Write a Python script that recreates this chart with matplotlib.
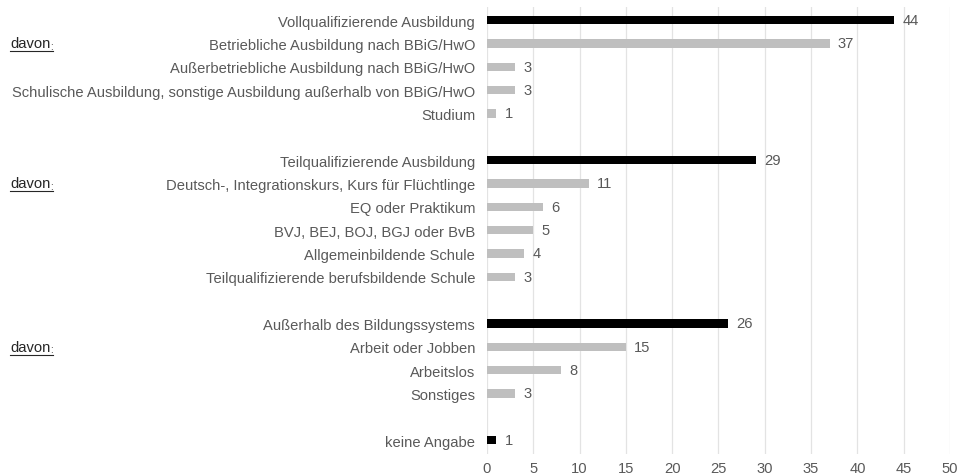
import matplotlib.pyplot as plt
from matplotlib.lines import Line2D

plt.rcParams['font.family'] = ['Liberation Sans', 'DejaVu Sans']

# Kategorien (None = Leerzeile)
labels = [
    'Vollqualifizierende Ausbildung',
    'Betriebliche Ausbildung nach BBiG/HwO',
    'Außerbetriebliche Ausbildung nach BBiG/HwO',
    'Schulische Ausbildung, sonstige Ausbildung außerhalb von BBiG/HwO',
    'Studium',
    None,
    'Teilqualifizierende Ausbildung',
    'Deutsch-, Integrationskurs, Kurs für Flüchtlinge',
    'EQ oder Praktikum',
    'BVJ, BEJ, BOJ, BGJ oder BvB',
    'Allgemeinbildende Schule',
    'Teilqualifizierende berufsbildende Schule',
    None,
    'Außerhalb des Bildungssystems',
    'Arbeit oder Jobben',
    'Arbeitslos',
    'Sonstiges',
    None,
    'keine Angabe',
]
values = [44, 37, 3, 3, 1, None, 29, 11, 6, 5, 4, 3, None, 26, 15, 8, 3, None, 1]
is_main = [True, False, False, False, False, None, True, False, False, False, False, False,
           None, True, False, False, False, None, True]
davon_rows = [1, 7, 14]

grey_text = '#595959'
fs = 10.6

fig = plt.figure(figsize=(9.63, 4.77), dpi=100)
ax = fig.add_axes([0.5057, 0.046, 0.4808, 0.937])

for i, (lab, val, main) in enumerate(zip(labels, values, is_main)):
    if lab is None:
        continue
    col = '#000000' if main else '#bfbfbf'
    ax.barh(i, val, height=0.36, color=col, zorder=3)
    ax.annotate(str(val), (val, i), xytext=(6, 0), textcoords='offset points',
                va='center', ha='left', fontsize=fs, color=grey_text)

ax.set_yticks([i for i, l in enumerate(labels) if l is not None])
ax.set_yticklabels([l for l in labels if l is not None], fontsize=fs, color=grey_text)
ax.tick_params(axis='y', length=0, pad=8.5)
ax.tick_params(axis='x', length=0, labelsize=fs, labelcolor=grey_text, pad=5)
ax.set_xlim(0, 50)
ax.set_xticks(range(0, 51, 5))
ax.set_ylim(18.6, -0.56)
ax.grid(axis='x', color='#e3e3e3', linewidth=0.9, zorder=0)
for s in ax.spines.values():
    s.set_visible(False)

# "davon:" unterstrichen
fig.canvas.draw()
renderer = fig.canvas.get_renderer()
inv = fig.transFigure.inverted()
for r in davon_rows:
    y_fig = inv.transform(ax.transData.transform((0, r)))[1]
    t = fig.text(10 / 963, y_fig, 'davon', fontsize=fs, color='#262626', va='center', ha='left')
    bb = t.get_window_extent(renderer)
    c = fig.text(bb.x1 / 963, y_fig - 0.005, ':', fontsize=7, color='#262626', va='center', ha='left')
    bc = c.get_window_extent(renderer)
    yl = (bb.y0 - 1) / 477
    fig.add_artist(Line2D([bb.x0 / 963, bc.x1 / 963], [yl, yl], color='#262626',
                          linewidth=0.8, transform=fig.transFigure))

fig.savefig('out.png', dpi=100)
